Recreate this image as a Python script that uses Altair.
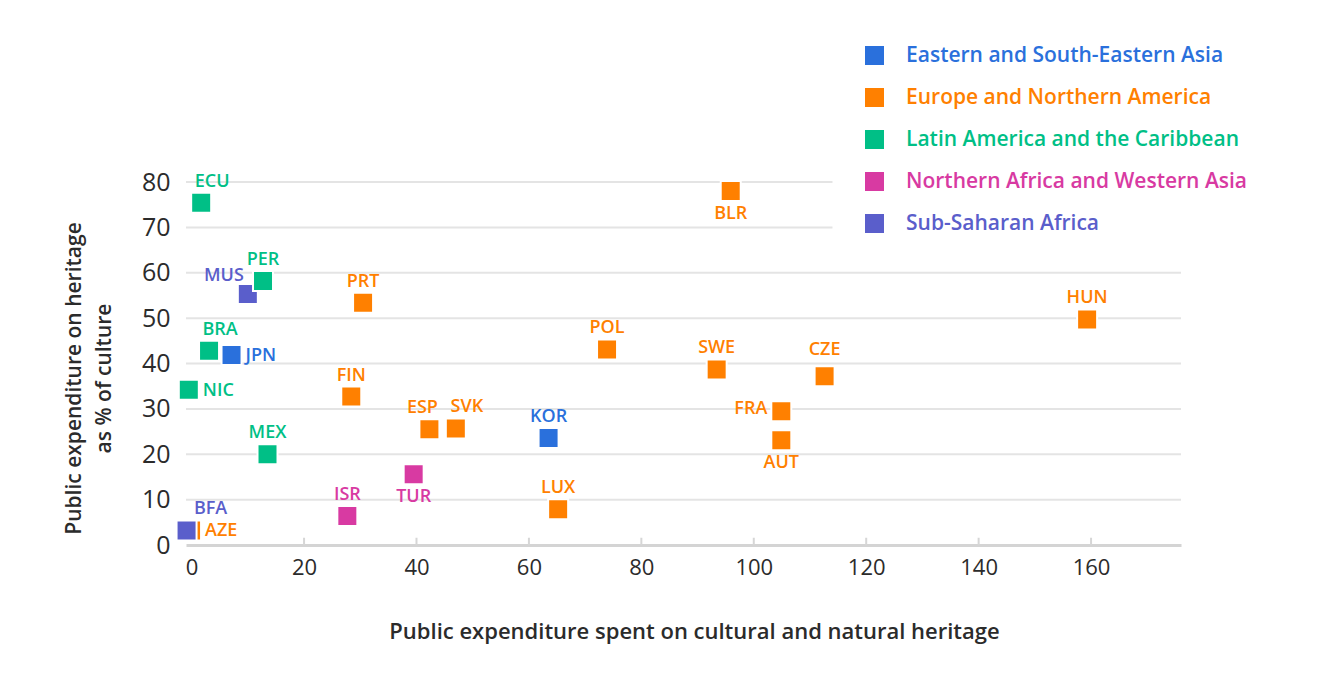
import altair as alt
import pandas as pd

countries = ["ECU", "MUS", "PER", "PRT", "BRA", "JPN", "NIC", "FIN", "ESP", "SVK", "MEX", "TUR",
             "ISR", "AZE", "BFA", "POL", "SWE", "CZE", "KOR", "FRA", "AUT", "LUX", "BLR", "HUN"]
regions = ["Latin America and the Caribbean", "Sub-Saharan Africa", "Latin America and the Caribbean",
           "Europe and Northern America", "Latin America and the Caribbean", "Eastern and South-Eastern Asia",
           "Latin America and the Caribbean", "Europe and Northern America", "Europe and Northern America",
           "Europe and Northern America", "Latin America and the Caribbean", "Northern Africa and Western Asia",
           "Northern Africa and Western Asia", "Europe and Northern America", "Sub-Saharan Africa",
           "Europe and Northern America", "Europe and Northern America", "Europe and Northern America",
           "Eastern and South-Eastern Asia", "Europe and Northern America", "Europe and Northern America",
           "Europe and Northern America", "Europe and Northern America", "Europe and Northern America"]
heritage_spend = [1.7, 10.0, 12.7, 30.5, 3.1, 7.1, -0.5, 28.4, 42.3, 47.0, 13.5, 39.5,
                  27.7, -0.1, -0.9, 73.9, 93.4, 112.6, 63.5, 104.9, 104.9, 65.2, 95.9, 159.3]
heritage_share = [75.4, 55.3, 58.2, 53.4, 42.8, 41.9, 34.2, 32.7, 25.5, 25.7, 20.0, 15.6,
                  6.4, 3.2, 3.2, 43.1, 38.7, 37.2, 23.6, 29.5, 23.1, 7.9, 78.0, 49.7]

region_names = ["Eastern and South-Eastern Asia", "Europe and Northern America",
                "Latin America and the Caribbean", "Northern Africa and Western Asia", "Sub-Saharan Africa"]
region_colors = ["#2a70dc", "#ff8000", "#00bf86", "#d83aa2", "#5a5ecb"]

x_ticks = [0, 20, 40, 60, 80, 100, 120, 140, 160]
y_ticks = [0, 10, 20, 30, 40, 50, 60, 70, 80]
grid_full = [10, 20, 30, 40, 50, 60]
grid_short = [70, 80]

df = pd.DataFrame({"country": countries, "region": regions, "x": heritage_spend, "y": heritage_share})

FONT = "Open Sans"
TXT = "#2b2b2b"
xs = alt.Scale(domain=[-1, 176], nice=False, zero=False)
ys = alt.Scale(domain=[0, 80], nice=False)
cs = alt.Scale(domain=region_names, range=region_colors)

label_color_expr = " : ".join(
    f"datum.label == '{n}' ? '{c}'" for n, c in zip(region_names, region_colors)
) + " : '#333'"

grid1 = alt.Chart(pd.DataFrame({"v": grid_full})).mark_rule(color="#e4e4e4", strokeWidth=2).encode(
    y=alt.Y("v:Q", scale=ys), x=alt.datum(-1, scale=xs), x2=alt.datum(176))
grid2 = alt.Chart(pd.DataFrame({"v": grid_short})).mark_rule(color="#e4e4e4", strokeWidth=2).encode(
    y=alt.Y("v:Q", scale=ys), x=alt.datum(-1, scale=xs), x2=alt.datum(114))
ticks = alt.Chart(pd.DataFrame({"v": x_ticks[1:]})).mark_rule(color="#d6d6d6", strokeWidth=2).encode(
    x=alt.X("v:Q", scale=xs), y=alt.datum(0, scale=ys), y2=alt.datum(1.6))

points = alt.Chart(df).mark_square(size=400, opacity=1, stroke="white", strokeWidth=2).encode(
    x=alt.X("x:Q", scale=xs,
            axis=alt.Axis(values=x_ticks, title="Public expenditure spent on cultural and natural heritage",
                          grid=False, ticks=False, domainColor="#d4d4d4", domainWidth=3,
                          labelFontSize=22, labelColor=TXT, labelPadding=12, labelFont=FONT,
                          labelFontWeight=500,
                          titleFontSize=22, titleColor=TXT, titleFont=FONT, titleFontWeight=600,
                          titlePadding=43, titleX=508)),
    y=alt.Y("y:Q", scale=ys,
            axis=alt.Axis(values=y_ticks, title=["Public expenditure on heritage", "as % of culture"],
                          grid=False, ticks=False, domain=False,
                          labelFontSize=25, labelColor=TXT, labelPadding=16, labelFont=FONT,
                          labelFontWeight=500,
                          titleFontSize=21, titleColor=TXT, titleFont=FONT, titleFontWeight=600,
                          titleLineHeight=30, titlePadding=27, titleY=196)),
    color=alt.Color("region:N", scale=cs,
                    legend=alt.Legend(title=None, orient="none", legendX=678, legendY=-137,
                                      symbolType="square", symbolSize=361, symbolStrokeWidth=0,
                                      symbolOpacity=1, labelFontSize=21, labelFont=FONT,
                                      labelFontWeight=600,
                                      labelOffset=21, rowPadding=20, labelLimit=500,
                                      labelColor=alt.ExprRef(label_color_expr))),
)


def labels(names, align="center", baseline="middle", dx=0, dy=-21):
    return alt.Chart(df).transform_filter(
        alt.FieldOneOfPredicate(field="country", oneOf=names)
    ).mark_text(align=align, baseline=baseline, dx=dx, dy=dy, fontSize=18, font=FONT, fontWeight=600).encode(
        x=alt.X("x:Q", scale=xs), y=alt.Y("y:Q", scale=ys), text="country:N",
        color=alt.Color("region:N", scale=cs, legend=None))


text_layers = [
    labels(["PER", "PRT", "FIN", "MEX", "ISR", "POL", "SWE", "KOR", "LUX", "HUN"]),
    labels(["CZE"], dy=-26),
    labels(["ECU", "BRA", "SVK"], dx=11),
    labels(["BFA"], dx=24),
    labels(["ESP"], dx=-7),
    labels(["MUS"], align="right", dx=-4, dy=-18),
    labels(["BLR", "AUT", "TUR"], dy=23),
    labels(["JPN", "NIC", "AZE"], align="left", dx=14, dy=1),
    labels(["FRA"], align="right", dx=-14, dy=-2),
]

chart = alt.layer(grid1, grid2, ticks, points, *text_layers).properties(
    width=995, height=363,
    autosize=alt.AutoSizeParams(type="none"),
    padding={"left": 178, "top": 174, "right": 128, "bottom": 128},
).configure(font=FONT).configure_view(stroke=None)

chart.save("out.html", embed_options={"renderer": "svg", "actions": False})
